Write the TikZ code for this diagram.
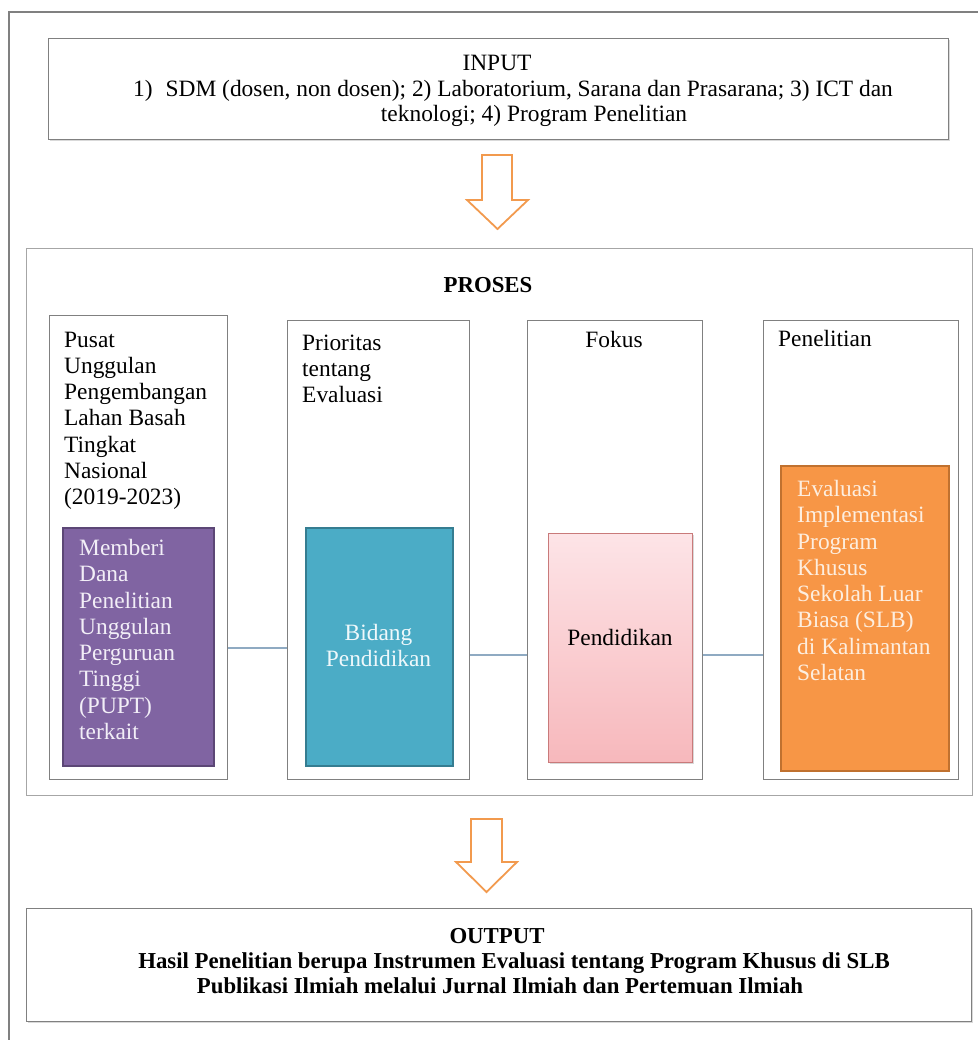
\documentclass[tikz,border=0pt]{standalone}
\usepackage{fontspec}
\setmainfont{Liberation Serif}
\usetikzlibrary{shadows}
\definecolor{framegray}{HTML}{808080}
\definecolor{lightgray2}{HTML}{A6A6A6}
\definecolor{purplefill}{HTML}{8064A2}
\definecolor{purpleline}{HTML}{5C4776}
\definecolor{purpletext}{HTML}{F2EEF7}
\definecolor{tealfill}{HTML}{4BACC6}
\definecolor{tealline}{HTML}{357D91}
\definecolor{tealtext}{HTML}{EEF8FB}
\definecolor{pinktop}{HTML}{FDE4E7}
\definecolor{pinkbot}{HTML}{F7B8BC}
\definecolor{pinkline}{HTML}{C97A7A}
\definecolor{orangefill}{HTML}{F79646}
\definecolor{orangeline}{HTML}{C0712F}
\definecolor{orangetext}{HTML}{FDEEDF}
\definecolor{connblue}{HTML}{8FAAC2}
\definecolor{arroworange}{HTML}{F29A4E}
\newcommand{\bodyfont}{\fontsize{23.4}{25}\selectfont}
\newcommand{\boldfont}{\fontsize{22.8}{25}\selectfont\bfseries}
\newcommand{\colfont}{\fontsize{23.4}{26.3}\selectfont}
\begin{document}
\begin{tikzpicture}[x=1pt,y=-1pt,
  mainbox/.style={draw=framegray, line width=1.4pt, anchor=north west, inner sep=0pt, fill=white,
    drop shadow={shadow xshift=1.2pt, shadow yshift=-1.2pt, opacity=0.3}},
  procbox/.style={draw=lightgray2, line width=1.2pt, anchor=north west, inner sep=0pt},
  colbox/.style={draw=framegray, line width=1.1pt, anchor=north west, inner sep=0pt},
  filledbox/.style={line width=1.6pt, anchor=north west, inner sep=0pt,
    drop shadow={shadow xshift=1.5pt, shadow yshift=-1.5pt, opacity=0.3}},
  iotext/.style={font=\bodyfont, inner sep=0pt},
  coltext/.style={font=\colfont, inner sep=0pt, align=left, anchor=north west},
  conn/.style={draw=connblue, line width=1.3pt},
  blockarrow/.style={draw=arroworange, line width=1.8pt, fill=white, line join=miter}
]
\useasboundingbox (0,0) rectangle (977,1040);
% outer frame
\coordinate (frameBL) at (9,1045);
\coordinate (frameTL) at (9,12);
\coordinate (frameTR) at (982,12);
\draw[draw=framegray, line width=1.4pt] (frameBL) -- (frameTL) -- (frameTR);

% INPUT
\node[mainbox, minimum width=900pt, minimum height=101pt] (input) at (48,38) {};
\node[iotext, anchor=base] (inputtitle) at (497,71) {INPUT};
\node[iotext, anchor=base west] (inputl1) at (133,97) {1)\hspace{13pt}SDM (dosen, non dosen); 2) Laboratorium, Sarana dan Prasarana; 3) ICT dan};
\node[iotext, anchor=base] (inputl2) at (534,122) {teknologi; 4) Program Penelitian};

% arrow 1
\draw[blockarrow] (482,155) -- (512,155) -- (512,200) -- (528,200) -- (497.5,229) -- (467,200) -- (482,200) -- cycle;

% PROSES
\node[procbox, minimum width=946pt, minimum height=547pt] (proses) at (26,248) {};
\node[iotext, anchor=base, font=\boldfont] (prosestitle) at (488,292) {PROSES};

% column 1
\node[colbox, minimum width=178pt, minimum height=464pt] (col1) at (49,315) {};
\node[coltext] (col1text) at (64,331.5) {Pusat\\Unggulan\\Pengembangan\\Lahan Basah\\Tingkat\\Nasional\\(2019-2023)};
\node[filledbox, draw=purpleline, fill=purplefill, minimum width=151pt, minimum height=238pt] (purple) at (62,527) {};
\node[coltext, text=purpletext] (purpletext) at (79,539) {Memberi\\Dana\\Penelitian\\Unggulan\\Perguruan\\Tinggi\\(PUPT)\\terkait};

% column 2
\node[colbox, minimum width=182pt, minimum height=459pt] (col2) at (287,320) {};
\node[coltext] (col2text) at (302,334.5) {Prioritas\\tentang\\Evaluasi};
\node[filledbox, draw=tealline, fill=tealfill, minimum width=147pt, minimum height=238pt] (teal) at (305,527) {};
\node[coltext, align=center, anchor=north, text=tealtext] (tealtext) at (378.5,624) {Bidang\\Pendidikan};

% column 3
\node[colbox, minimum width=175pt, minimum height=459pt] (col3) at (527,320) {};
\node[iotext, font=\colfont, anchor=base] (col3text) at (614,347) {Fokus};
\node[filledbox, draw=pinkline, line width=1.2pt, top color=pinktop, bottom color=pinkbot, minimum width=144pt, minimum height=229pt] (pink) at (548,533) {};
\node[iotext, font=\colfont, anchor=base] (pinktext) at (620,645) {Pendidikan};

% column 4
\node[colbox, minimum width=195pt, minimum height=459pt] (col4) at (763,320) {};
\node[iotext, font=\colfont, anchor=base west] (col4text) at (778,346) {Penelitian};
\node[filledbox, draw=orangeline, fill=orangefill, minimum width=168pt, minimum height=305pt] (orange) at (780,465) {};
\node[coltext, text=orangetext] (orangetext) at (797,480) {Evaluasi\\Implementasi\\Program\\Khusus\\Sekolah Luar\\Biasa (SLB)\\di Kalimantan\\Selatan};

% connectors
\draw[conn] (col1.east |- 0,648) -- (col2.west |- 0,648);
\draw[conn] (col2.east |- 0,655) -- (col3.west |- 0,655);
\draw[conn] (col3.east |- 0,655) -- (col4.west |- 0,655);

% arrow 2
\draw[blockarrow] (471,819) -- (502,819) -- (502,862) -- (517,862) -- (486.5,892) -- (456,862) -- (471,862) -- cycle;

% OUTPUT
\node[mainbox, minimum width=945pt, minimum height=113pt] (output) at (26,908) {};
\node[iotext, anchor=base, font=\boldfont] (outputtitle) at (497,943) {OUTPUT};
\node[iotext, anchor=base, font=\boldfont] (outputl1) at (514,968) {Hasil Penelitian berupa Instrumen Evaluasi tentang Program Khusus di SLB};
\node[iotext, anchor=base, font=\boldfont] (outputl2) at (500,993) {Publikasi Ilmiah melalui Jurnal Ilmiah dan Pertemuan Ilmiah};
\end{tikzpicture}
\end{document}
